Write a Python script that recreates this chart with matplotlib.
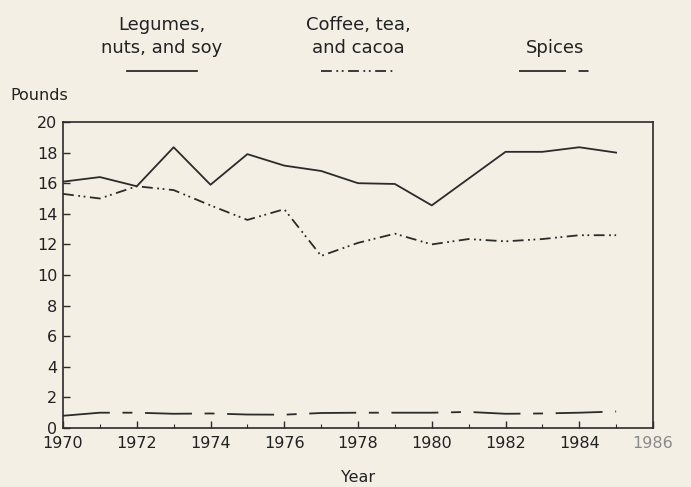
import matplotlib
matplotlib.use("Agg")
import matplotlib.pyplot as plt
from matplotlib.ticker import MultipleLocator

years = list(range(1970, 1986))
legumes = [16.1, 16.4, 15.8, 18.35, 15.9, 17.9, 17.15, 16.8, 16.0, 15.95, 14.55, 16.3, 18.05, 18.05, 18.35, 18.0]
coffee = [15.3, 15.0, 15.8, 15.55, 14.55, 13.6, 14.3, 11.25, 12.1, 12.7, 12.0, 12.35, 12.2, 12.35, 12.6, 12.6]
spices = [0.8, 1.0, 1.0, 0.93, 0.95, 0.88, 0.87, 0.98, 1.0, 1.0, 1.0, 1.05, 0.93, 0.95, 1.0, 1.08]

series_names = [("Legumes,", "nuts, and soy"), ("Coffee, tea,", "and cacoa"), ("", "Spices")]
x_ticks = list(range(1970, 1987, 2))
y_ticks = list(range(0, 21, 2))

bg = "#f3efe5"
ink = "#2b2b2b"
txt = "#222222"
plt.rcParams['font.family'] = ['DejaVu Sans']

fig = plt.figure(figsize=(6.91, 4.87), dpi=100, facecolor=bg)
ax = fig.add_axes([63/691, 1-428/487, (653-63)/691, (428-122)/487])
ax.set_facecolor(bg)

styles = [
    dict(linestyle='-'),
    dict(linestyle=(0, (6, 2.5, 1, 2, 1, 2.5))),
    dict(linestyle=(0, (26, 7, 5.5, 7))),
]
data = [legumes, coffee, spices]
for vals, st in zip(data, styles):
    ax.plot(years, vals, color=ink, lw=1.3, **st)

ax.set_xlim(1970, 1986)
ax.set_ylim(0, 20)
ax.set_xticks(x_ticks)
ax.xaxis.set_minor_locator(MultipleLocator(1))
ax.set_yticks(y_ticks)
ax.tick_params(axis='both', direction='in', length=5, width=1, colors=ink, labelsize=11.5, labelcolor=txt)
ax.tick_params(axis='x', which='minor', direction='in', length=3, width=0.8, colors=ink)
ax.tick_params(axis='y', pad=4)
ax.tick_params(axis='x', pad=6)
for lbl in ax.get_xticklabels():
    if lbl.get_text() == '1986':
        lbl.set_color('#8a8a8a')
for s in ax.spines.values():
    s.set_color(ink)
    s.set_linewidth(1.2)

fig.text(10/691, 1-96/487, "Pounds", fontsize=11.5, color=txt, ha='left', va='center')
fig.text(358/691, 1-478/487, "Year", fontsize=11.5, color=txt, ha='center', va='center')

# legend above the axes
centers = [162, 358, 555]
seg = [(127, 197), (321, 394), (519, 592)]
for (l1, l2), cx, (x0, x1), st in zip(series_names, centers, seg, styles):
    if l1:
        fig.text(cx/691, 1-25/487, l1, fontsize=13, color=txt, ha='center', va='center')
    fig.text(cx/691, 1-48/487, l2, fontsize=13, color=txt, ha='center', va='center')
    fig.add_artist(plt.Line2D([x0/691, x1/691], [1-71/487, 1-71/487], transform=fig.transFigure,
                              color=ink, lw=1.3, **st))

fig.savefig("out.png", dpi=100, facecolor=bg)
